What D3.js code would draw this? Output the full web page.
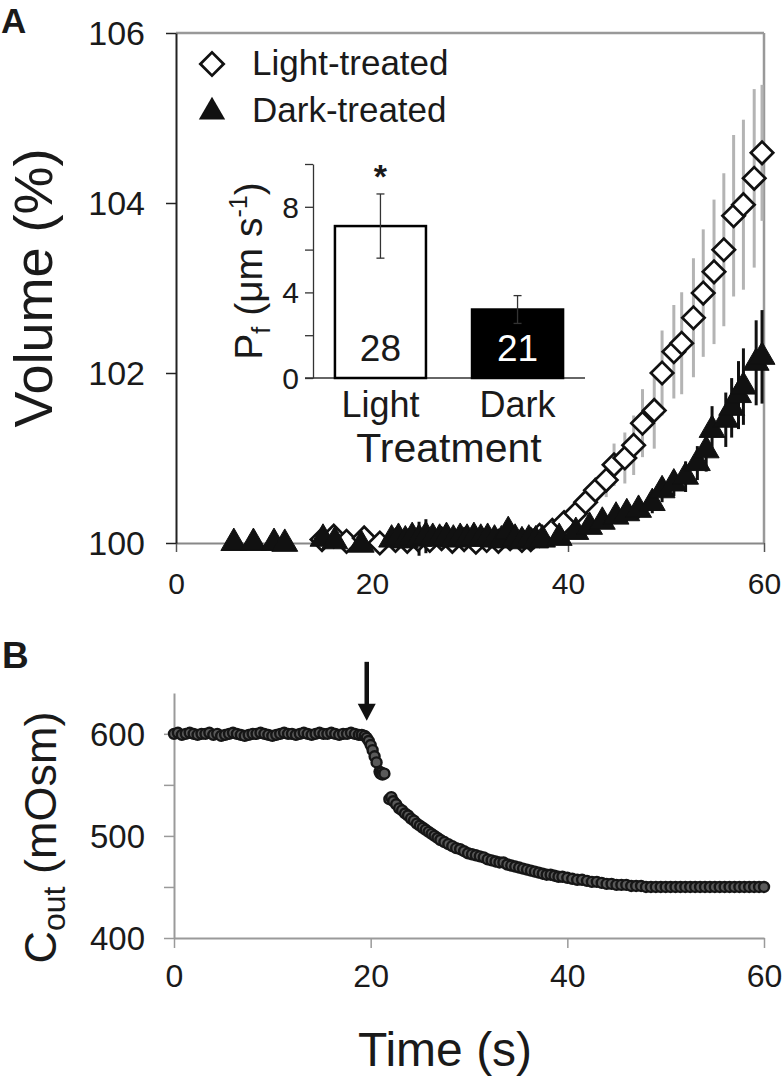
<!DOCTYPE html>
<html><head><meta charset="utf-8">
<script src="https://cdn.jsdelivr.net/npm/d3@7"></script>
<style>
body{margin:0;background:#fff}
svg{display:block}
text{font-family:"Liberation Sans",Arial,sans-serif;fill:#1a1a1a}
</style>
</head><body>
<svg id="c" width="784" height="1078"></svg>
<script>
// ---------- Panel A data ----------
const lightTime = [14.9,16.1,17.4,19.2,20.8,22.4,23.6,24.7,25.9,27.1,28.2,29.4,30.6,31.7,32.9,34.1,35.3,36.2,
  37.1,38.4,39.6,40.8,41.8,42.8,43.9,44.7,45.8,46.7,47.6,48.8,49.6,50.8,51.6,52.8,53.8,54.9,55.9,56.9,57.9,59.0,59.8];
const lightVol = [100.04,100.08,100.02,100.06,100.0,100.03,100.02,100.04,100.03,100.05,100.02,100.04,100.01,100.03,100.02,100.05,100.03,100.04,
  100.09,100.15,100.24,100.35,100.48,100.62,100.74,100.92,101.0,101.15,101.41,101.56,102.0,102.25,102.35,102.65,102.94,103.19,103.45,103.85,103.98,104.29,104.59];
const lightErr = [0.02,0.02,0.02,0.02,0.02,0.02,0.02,0.02,0.02,0.02,0.02,0.02,0.02,0.02,0.02,0.02,0.02,0.02,
  0.03,0.05,0.08,0.1,0.12,0.15,0.2,0.25,0.3,0.35,0.4,0.45,0.5,0.55,0.6,0.7,0.75,0.85,0.9,0.95,1.0,1.05,0.8];

const darkTime = [5.9,7.9,10.0,11.1,15.0,16.2,18.9,
  22.0,22.7,23.4,24.1,24.8,25.5,26.2,26.9,27.6,28.3,29.0,29.7,30.4,31.1,31.8,32.5,33.2,33.9,34.6,35.3,36.0,36.7,37.4,
  39.1,40.8,42.2,43.5,44.9,46.0,47.2,48.6,49.6,50.8,52.0,53.2,54.1,54.7,56.1,56.7,57.4,57.9,59.2,59.8];
const darkVol = [100.0,100.0,100.0,99.99,100.05,100.02,99.98,
  100.04,100.06,100.03,100.07,100.05,100.08,100.06,100.05,100.07,100.04,100.06,100.05,100.07,100.05,100.06,100.04,100.03,100.14,100.05,100.02,100.04,100.03,100.04,
  100.06,100.13,100.19,100.25,100.31,100.35,100.39,100.47,100.62,100.70,100.78,100.94,101.09,101.33,101.45,101.59,101.74,101.84,102.12,102.19];
const darkErr = [0.03,0.03,0.03,0.03,0.03,0.03,0.03,
  0.03,0.03,0.03,0.03,0.2,0.2,0.03,0.03,0.03,0.03,0.03,0.03,0.03,0.03,0.03,0.03,0.03,0.05,0.03,0.03,0.03,0.03,0.03,
  0.04,0.05,0.06,0.07,0.08,0.09,0.1,0.12,0.14,0.15,0.18,0.2,0.25,0.28,0.32,0.35,0.4,0.45,0.5,0.55];

const volTicks = [100,102,104,106];
const timeTicks = [0,20,40,60];

// ---------- Inset data ----------
const treatCats = ["Light","Dark"];
const pfMean = [7.1,3.2];
const pfErr = [1.5,0.65];
const pfN = ["28","21"];
const pfTicks = [0,2,4,6,8,10];
const pfLabelTicks = [0,4,8];

// ---------- Panel B data ----------
const cTime = [0,0.4,0.8,1.2,1.6,2,2.4,2.8,3.2,3.6,4,4.4,4.8,5.2,5.6,6,6.4,6.8,7.2,7.6,8,8.4,8.8,9.2,9.6,10,
  10.4,10.8,11.2,11.6,12,12.4,12.8,13.2,13.6,14,14.4,14.8,15.2,15.6,16,16.4,16.8,17.2,17.6,18,18.4,18.8,
  19.1,19.4,19.6,19.8,20.0,20.2,20.4,20.6,20.9,21.0,21.1,21.2,21.4,
  21.9,22.1,22.3,22.6,22.9,23.2,23.5,23.8,24.1,24.4,24.7,25.0,25.3,25.6,25.9,26.2,26.5,26.8,27.1,27.5,27.9,
  28.3,28.7,29.1,29.5,29.9,30.3,30.7,31.1,31.5,31.9,32.3,32.7,33.1,33.5,33.9,34.3,34.7,35.1,35.5,35.9,36.3,
  36.7,37.1,37.5,37.9,38.3,38.7,39.1,39.5,40.0,40.5,41.0,41.5,42.0,42.5,43.0,43.5,44.0,44.5,45.0,45.5,46.0,
  46.5,47.0,47.5,48.0,48.5,49.0,49.5,50.0,50.5,51.0,51.5,52.0,52.5,53.0,53.5,54.0,54.5,55.0,55.5,56.0,56.5,
  57.0,57.5,58.0,58.5,59.0,59.5,60.0];
const cOsm = [600,601,599,600,601,600,599,600,600,601,599,600,598,599,600,601,600,599,598,599,600,600,601,600,599,598,
  599,600,601,600,600,599,600,601,600,599,600,601,600,600,601,600,599,600,600,601,600,599,
  599,598,596,593,589,584,578,572,563,561,562,560,561,
  536,538,534,531,527,525,522,520,517,515,512,510,508,506,504,502,500,498,496,494,492,
  490,488,487,485,483,482,481,480,479,477,476,475,474,474,472,471,470,469,468,467,466,
  465,464,463,462,462,461,460,460,459,458,457,457,456,455,455,454,453,453,452,452,452,
  451,451,451,450,450,450,450,450,450,450,450,450,450,450,450,450,450,450,450,450,450,
  450,450,450,450,450,450,450];
const osmTicks = [400,450,500,550,600];
const arrowTime = 19.6;

// ---------- Drawing ----------
const svg = d3.select("#c");
const FONT = '"Liberation Sans",Arial,sans-serif';
const fmtInt = d3.format("d");

const xA = d3.scaleLinear().domain([0,60]).range([176,764]);
const yA = d3.scaleLinear().domain([100,106]).range([543,33]);
const gA = svg.append("g");

gA.append("line").attr("x1",xA(0)).attr("x2",xA(60)).attr("y1",yA(106)).attr("y2",yA(106)).attr("stroke","#999").attr("stroke-width",2.5);
gA.append("line").attr("x1",xA(60)).attr("x2",xA(60)).attr("y1",yA(106)).attr("y2",yA(100)).attr("stroke","#999").attr("stroke-width",2.5);

const axBA = gA.append("g").attr("transform",`translate(0,${yA(100)})`)
  .call(d3.axisBottom(xA).tickValues(timeTicks).tickFormat(fmtInt).tickSize(9).tickSizeOuter(0));
axBA.select(".domain").attr("stroke","#888").attr("stroke-width",2);
axBA.selectAll(".tick line").attr("stroke","#555").attr("stroke-width",1.5);
axBA.selectAll("text").attr("font-size",30).attr("font-family",FONT).attr("y",40).attr("dy","0.35em").attr("fill","#1a1a1a");

const axLA = gA.append("g").attr("transform",`translate(${xA(0)},0)`)
  .call(d3.axisLeft(yA).tickValues(volTicks).tickFormat(fmtInt).tickSize(10).tickSizeOuter(0));
axLA.select(".domain").attr("stroke","#222").attr("stroke-width",2);
axLA.selectAll(".tick line").attr("stroke","#222").attr("stroke-width",1.5);
axLA.selectAll("text").attr("font-size",34).attr("font-family",FONT).attr("x",-31).attr("dy","0.35em").attr("fill","#1a1a1a");

gA.append("text").attr("transform",`translate(52,${(yA(100)+yA(106))/2}) rotate(-90)`)
  .attr("text-anchor","middle").attr("font-size",54).text("Volume (%)");
svg.append("text").attr("x",1).attr("y",33).attr("font-size",35).attr("font-weight","bold").text("A");

const light = lightTime.map((t,i)=>({t,v:lightVol[i],e:lightErr[i]}));
const dark = darkTime.map((t,i)=>({t,v:darkVol[i],e:darkErr[i]}));
gA.append("g").selectAll("line").data(light).join("line")
  .attr("x1",d=>xA(d.t)).attr("x2",d=>xA(d.t))
  .attr("y1",d=>yA(d.v-d.e)).attr("y2",d=>yA(d.v+d.e))
  .attr("stroke","#b4b4b4").attr("stroke-width",3);
gA.append("g").selectAll("line").data(dark).join("line")
  .attr("x1",d=>xA(d.t)).attr("x2",d=>xA(d.t))
  .attr("y1",d=>yA(d.v-d.e)).attr("y2",d=>yA(d.v+d.e))
  .attr("stroke","#111").attr("stroke-width",3);

const diamond = d3.symbol().type(d3.symbolSquare).size(250);
const tri = d3.symbol().type(d3.symbolTriangle).size(290);

gA.append("g").selectAll("path").data(light).join("path")
  .attr("d",diamond).attr("transform",d=>`translate(${xA(d.t)},${yA(d.v)}) rotate(45)`)
  .attr("fill","#fff").attr("stroke","#111").attr("stroke-width",2.7);
gA.append("g").selectAll("path").data(dark).join("path")
  .attr("d",tri).attr("transform",d=>`translate(${xA(d.t)},${yA(d.v)})`)
  .attr("fill","#111").attr("stroke","#111").attr("stroke-width",1);

const lg = gA.append("g");
lg.append("path").attr("d",d3.symbol().type(d3.symbolSquare).size(270)).attr("transform","translate(212,64) rotate(45)")
  .attr("fill","#fff").attr("stroke","#111").attr("stroke-width",2.8);
lg.append("text").attr("x",252).attr("y",75).attr("font-size",35).text("Light-treated");
lg.append("path").attr("d",d3.symbol().type(d3.symbolTriangle).size(300)).attr("transform","translate(212,112)")
  .attr("fill","#111");
lg.append("text").attr("x",252).attr("y",122).attr("font-size",35).text("Dark-treated");

// ---------- Inset ----------
const yP = d3.scaleLinear().domain([0,10]).range([378,164]);
const xP = d3.scaleBand().domain(treatCats).range([313,585]).paddingInner(0.336).paddingOuter(0.16);
const gI = svg.append("g");
const axP = gI.append("g").attr("transform",`translate(${xP.range()[0]},0)`)
  .call(d3.axisLeft(yP).tickValues(pfTicks).tickSize(8).tickSizeOuter(0)
    .tickFormat(d=>pfLabelTicks.includes(d)?fmtInt(d):""));
axP.select(".domain").attr("stroke","#333").attr("stroke-width",1.3);
axP.selectAll(".tick line").attr("stroke","#333").attr("stroke-width",1.3);
axP.selectAll("text").attr("font-size",30).attr("font-family",FONT).attr("x",-14).attr("dy","0.35em").attr("fill","#1a1a1a");
gI.append("line").attr("x1",xP.range()[0]-8).attr("x2",xP.range()[1]).attr("y1",yP(0)).attr("y2",yP(0))
  .attr("stroke","#333").attr("stroke-width",1.3);
gI.selectAll("rect.bar").data(treatCats).join("rect").attr("class","bar")
  .attr("x",d=>xP(d)).attr("width",xP.bandwidth())
  .attr("y",(d,i)=>yP(pfMean[i])).attr("height",(d,i)=>yP(0)-yP(pfMean[i]))
  .attr("fill",(d,i)=>i===0?"#fff":"#000").attr("stroke","#000").attr("stroke-width",2.5);
treatCats.forEach((c,i)=>{
  const cx = xP(c)+xP.bandwidth()/2;
  const col = "#333";
  gI.append("line").attr("x1",cx).attr("x2",cx).attr("y1",yP(pfMean[i]-pfErr[i])).attr("y2",yP(pfMean[i]+pfErr[i]))
    .attr("stroke",col).attr("stroke-width",1.3);
  [pfMean[i]+pfErr[i], pfMean[i]-pfErr[i]].forEach(v=>{
    gI.append("line").attr("x1",cx-4).attr("x2",cx+4).attr("y1",yP(v)).attr("y2",yP(v)).attr("stroke",col).attr("stroke-width",1.3);
  });
  gI.append("text").attr("x",cx).attr("y",yP(0)-17).attr("text-anchor","middle").attr("font-size",37)
    .style("fill",i===0?"#1a1a1a":"#fff").text(pfN[i]);
  gI.append("text").attr("x",cx).attr("y",417).attr("text-anchor","middle").attr("font-size",36).text(c);
});
gI.append("text").attr("x",xP("Light")+xP.bandwidth()/2).attr("y",yP(pfMean[0]+pfErr[0])-6).attr("text-anchor","middle")
  .attr("font-size",34).attr("font-weight","bold").text("*");
gI.append("text").attr("x",449).attr("y",462).attr("text-anchor","middle").attr("font-size",41).text("Treatment");
const pt = gI.append("text").attr("transform",`translate(262,${(yP(0)+yP(10))/2}) rotate(-90)`)
  .attr("text-anchor","middle").attr("font-size",39);
pt.append("tspan").text("P");
pt.append("tspan").attr("font-size",25).attr("dy",8).text("f");
pt.append("tspan").attr("dy",-8).text(" (μm s");
pt.append("tspan").attr("font-size",25).attr("dy",-15).text("-1");
pt.append("tspan").attr("dy",15).text(")");

// ---------- Panel B ----------
const xB = d3.scaleLinear().domain([0,60]).range([174,764]);
const yB = d3.scaleLinear().domain([400,640]).range([938,693]);
const gB = svg.append("g");
const axBB = gB.append("g").attr("transform",`translate(0,${yB(400)})`)
  .call(d3.axisBottom(xB).tickValues(timeTicks).tickFormat(fmtInt).tickSize(10).tickSizeOuter(0));
axBB.select(".domain").attr("stroke","#9a9a9a").attr("stroke-width",2);
axBB.selectAll(".tick line").attr("stroke","#9a9a9a").attr("stroke-width",1.5);
axBB.selectAll("text").attr("font-size",32).attr("font-family",FONT).attr("y",38).attr("dy","0.35em").attr("fill","#1a1a1a");
const axLB = gB.append("g").attr("transform",`translate(${xB(0)},0)`)
  .call(d3.axisLeft(yB).tickValues(osmTicks).tickSize(10).tickSizeOuter(0).tickFormat(d=>d%100===0?fmtInt(d):""));
axLB.select(".domain").attr("stroke","#9a9a9a").attr("stroke-width",2);
axLB.selectAll(".tick line").attr("stroke","#9a9a9a").attr("stroke-width",1.5);
axLB.selectAll("text").attr("font-size",33).attr("font-family",FONT).attr("x",-29).attr("dy","0.35em").attr("fill","#1a1a1a");

const cdata = cTime.map((t,i)=>({t,v:cOsm[i]}));
gB.append("g").selectAll("circle").data(cdata).join("circle")
  .attr("cx",d=>xB(d.t)).attr("cy",d=>yB(d.v)).attr("r",5)
  .attr("fill","#5a5a5a").attr("stroke","#161616").attr("stroke-width",2.4);

const ax0 = xB(arrowTime), ay = yB(600);
gB.append("line").attr("x1",ax0).attr("x2",ax0).attr("y1",ay-72).attr("y2",ay-28).attr("stroke","#111").attr("stroke-width",4.5);
gB.append("path").attr("d",`M${ax0-9},${ay-30} L${ax0+9},${ay-30} L${ax0},${ay-13} Z`).attr("fill","#111");

svg.append("text").attr("x",2).attr("y",668).attr("font-size",37).attr("font-weight","bold").text("B");
gB.append("text").attr("x",(xB(0)+xB(60))/2-24).attr("y",1066).attr("text-anchor","middle").attr("font-size",48).text("Time (s)");
const ct = gB.append("text").attr("transform",`translate(56,${(yB(400)+yB(640))/2+22}) rotate(-90)`)
  .attr("text-anchor","middle").attr("font-size",45);
ct.append("tspan").text("C");
ct.append("tspan").attr("font-size",32).attr("dy",9).text("out");
ct.append("tspan").attr("dy",-9).text(" (mOsm)");
</script>
</body></html>
